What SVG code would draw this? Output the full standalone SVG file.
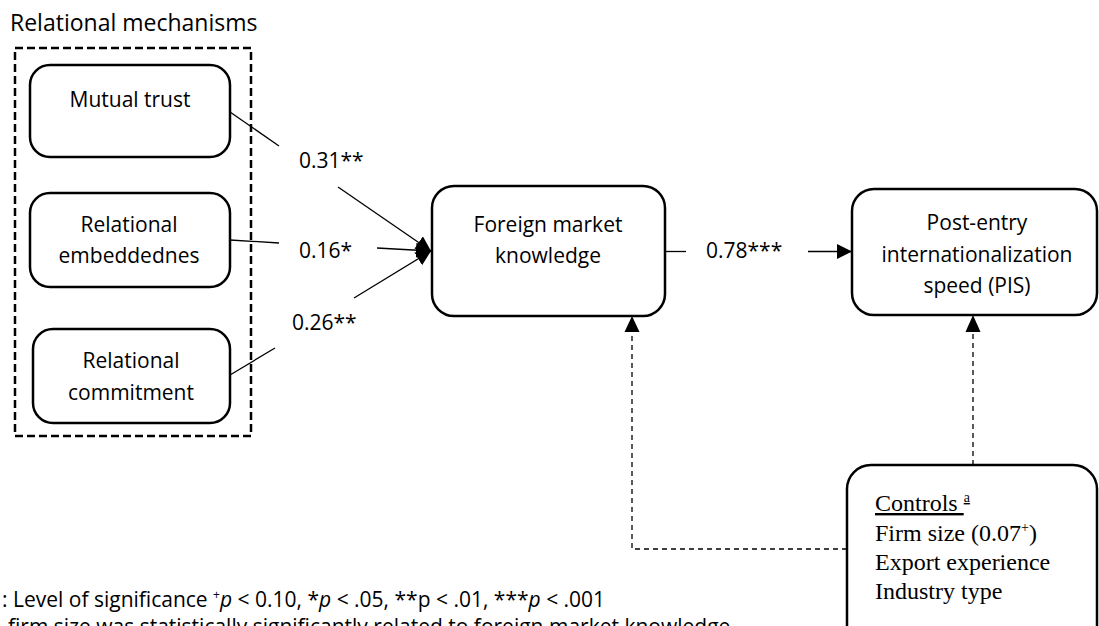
<svg xmlns="http://www.w3.org/2000/svg" width="1099" height="626" viewBox="0 0 1099 626">
<style>
.node{fill:#fff;stroke:#000;stroke-width:2.5}
.lbl{font-family:"Open Sans","Liberation Sans",sans-serif;font-size:21px;fill:#000}
.mid{text-anchor:middle}
.ser{font-family:"Liberation Serif","Times New Roman",serif;font-size:24px;fill:#000}
.edge{stroke:#000;stroke-width:1.3;fill:none}
.dash{stroke:#000;stroke-width:1.3;fill:none;stroke-dasharray:5 4}
</style>
<defs>
<marker id="arr" markerUnits="userSpaceOnUse" markerWidth="16" markerHeight="16" refX="15" refY="7.5" orient="auto">
<path d="M0,0 L15,7.5 L0,15 z" fill="#000"/>
</marker>
</defs>
<rect width="1099" height="626" fill="#fff"/>
<text class="lbl" x="10" y="31" style="font-size:23px">Relational mechanisms</text>
<rect id="group-box" x="15" y="48" width="236" height="388" fill="none" stroke="#000" stroke-width="2.5" stroke-dasharray="8 4"/>
<g id="connectors">
<line class="edge" x1="230" y1="112" x2="279" y2="146"/>
<line class="edge" x1="338" y1="187" x2="431" y2="251" marker-end="url(#arr)"/>
<line class="edge" x1="230" y1="240" x2="279" y2="243"/>
<line class="edge" x1="377" y1="248" x2="431" y2="251" marker-end="url(#arr)"/>
<line class="edge" x1="230" y1="375" x2="275" y2="348"/>
<line class="edge" x1="354" y1="298" x2="431" y2="251" marker-end="url(#arr)"/>
<line class="edge" x1="665" y1="251.5" x2="686" y2="251.5"/>
<line class="edge" x1="808" y1="251.5" x2="852" y2="251.5" marker-end="url(#arr)"/>
<path class="dash" d="M847,549 H632 V331"/>
<path d="M632,316 L639.5,332 L624.5,332 z" fill="#000"/>
<line class="dash" x1="973" y1="465" x2="973" y2="331"/>
<path d="M973,315 L980.5,332 L965.5,332 z" fill="#000"/>
<text class="lbl" x="299" y="168">0.31**</text>
<text class="lbl" x="299" y="258">0.16*</text>
<text class="lbl" x="292" y="330">0.26**</text>
<text class="lbl" x="706" y="258">0.78***</text>
</g>
<g id="mutual-trust">
<rect class="node" x="30" y="65" width="200" height="92" rx="20"/>
<text class="lbl mid" x="130" y="107">Mutual trust</text>
</g>
<g id="relational-embeddedness">
<rect class="node" x="30" y="193" width="200" height="94" rx="20"/>
<text class="lbl mid" x="129" y="232">Relational</text>
<text class="lbl mid" x="129" y="263">embeddednes</text>
</g>
<g id="relational-commitment">
<rect class="node" x="33" y="329" width="197" height="94" rx="20"/>
<text class="lbl mid" x="131" y="368">Relational</text>
<text class="lbl mid" x="131" y="400">commitment</text>
</g>
<g id="foreign-market-knowledge">
<rect class="node" x="432" y="186" width="233" height="130" rx="22"/>
<text class="lbl mid" x="548" y="232">Foreign market</text>
<text class="lbl mid" x="548" y="263">knowledge</text>
</g>
<g id="pis">
<rect class="node" x="852" y="189" width="245" height="126" rx="22"/>
<text class="lbl mid" x="977" y="230">Post-entry</text>
<text class="lbl mid" x="977" y="262">internationalization</text>
<text class="lbl mid" x="977" y="293">speed (PIS)</text>
</g>
<g id="controls">
<rect class="node" x="847" y="465" width="250" height="200" rx="24"/>
<text class="ser" x="875" y="511" text-decoration="underline">Controls <tspan style="font-size:14px" dy="-9">a</tspan></text>
<text class="ser" x="875" y="541">Firm size (0.07<tspan style="font-size:14px" dy="-9">+</tspan><tspan dy="9">)</tspan></text>
<text class="ser" x="875" y="570">Export experience</text>
<text class="ser" x="875" y="599">Industry type</text>
</g>
<g id="footnote">
<text class="lbl" x="2" y="607">: Level of significance <tspan style="font-size:12px" dy="-8">+</tspan><tspan dy="8" font-style="italic">p</tspan> &lt; 0.10, *<tspan font-style="italic">p</tspan> &lt; .05, **p &lt; .01, ***<tspan font-style="italic">p</tspan> &lt; .001</text>
<text class="lbl" x="8" y="634">firm size was statistically significantly related to foreign market knowledge</text>
</g>
</svg>
